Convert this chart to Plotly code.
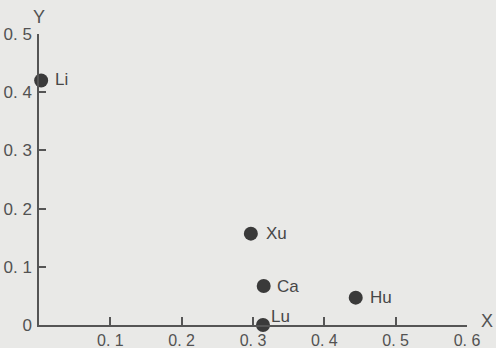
import plotly.graph_objects as go

names = ["Li", "Xu", "Ca", "Hu", "Lu"]
x_vals = [0.003, 0.297, 0.315, 0.444, 0.314]
y_vals = [0.42, 0.157, 0.067, 0.047, 0.0]

x_tickvals = [0.1, 0.2, 0.3, 0.4, 0.5, 0.6]
x_ticktext = ["0. 1", "0. 2", "0. 3", "0. 4", "0. 5", "0. 6"]
y_tickvals = [0, 0.1, 0.2, 0.3, 0.4, 0.5]
y_ticktext = ["0", "0. 1", "0. 2", "0. 3", "0. 4", "0. 5"]

# label offsets (style, pixels)
label_dx = [12, 13, 11, 12, 6]
label_dy = [1, 0, 0, 0, 9]

bg = "#e9e9e7"
ink = "#474747"
tick_ink = "#525252"
font = "Liberation Sans, Arial, sans-serif"

fig = go.Figure()
fig.add_trace(go.Scatter(
    x=x_vals, y=y_vals, mode="markers",
    marker=dict(size=14, color="#3a3a3a"),
    cliponaxis=False, showlegend=False,
))

annotations = []
for n, xv, yv, dx, dy in zip(names, x_vals, y_vals, label_dx, label_dy):
    annotations.append(dict(
        text=n, x=xv, y=yv, xref="x", yref="y", xanchor="left", yanchor="middle",
        xshift=dx, yshift=dy, showarrow=False,
        font=dict(family=font, size=17, color=ink)))

annotations += [
    dict(text="Y", x=0, y=1.0, xref="paper", yref="paper", yshift=5,
         xanchor="center", yanchor="bottom", showarrow=False,
         font=dict(family=font, size=18, color=tick_ink)),
    dict(text="X", x=1.0, y=0, xref="paper", yref="paper", xshift=20, yshift=4,
         xanchor="center", yanchor="middle", showarrow=False,
         font=dict(family=font, size=18, color=tick_ink)),
]

fig.update_layout(
    width=496, height=348,
    margin=dict(l=39, r=29, t=34, b=23),
    paper_bgcolor=bg, plot_bgcolor=bg,
    font=dict(family=font, size=16, color=tick_ink),
    xaxis=dict(range=[0, 0.6], tickvals=x_tickvals, ticktext=x_ticktext,
               ticks="inside", ticklen=8, tickwidth=1.5, tickcolor="#555555",
               showline=True, linecolor="#555555", linewidth=1.5,
               showgrid=False, zeroline=False, fixedrange=True, automargin=False),
    yaxis=dict(range=[0, 0.5], tickvals=y_tickvals, ticktext=y_ticktext,
               ticks="inside", ticklen=7, tickwidth=1.5, tickcolor="#555555",
               ticklabelstandoff=2, tickfont=dict(size=17),
               showline=True, linecolor="#555555", linewidth=1.5,
               showgrid=False, zeroline=False, fixedrange=True, automargin=False),
    annotations=annotations,
)

fig.write_html(
    "out.html",
    config={"displayModeBar": False},
    post_script="document.body.style.margin='0';document.body.style.overflow='hidden';document.body.style.background='%s';" % bg,
)
